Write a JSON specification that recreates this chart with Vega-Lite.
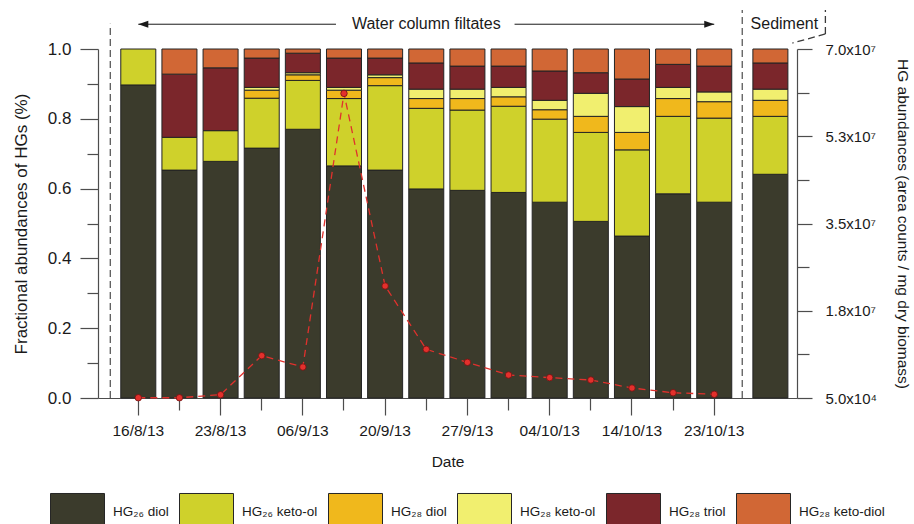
{
  "$schema": "https://vega.github.io/schema/vega-lite/v6.json",
  "width": 699,
  "height": 349,
  "autosize": "none",
  "padding": {"left": 98, "top": 49, "right": 117, "bottom": 126},
  "background": "#ffffff",
  "config": {
    "view": {"stroke": null},
    "font": "Liberation Sans",
    "axis": {
      "grid": false,
      "domainColor": "#4d4d4d",
      "domainWidth": 1.2,
      "tickColor": "#4d4d4d",
      "tickWidth": 1.2,
      "labelColor": "#1a1a1a",
      "titleColor": "#1a1a1a",
      "labelFont": "Liberation Sans",
      "titleFont": "Liberation Sans",
      "titleFontWeight": "normal"
    }
  },
  "datasets": {
    "fractions": [
      {"sample": "W1", "HG₂₆ diol": 0.897, "HG₂₆ keto-ol": 0.103, "HG₂₈ diol": 0, "HG₂₈ keto-ol": 0, "HG₂₈ triol": 0, "HG₂₈ keto-diol": 0},
      {"sample": "W2", "HG₂₆ diol": 0.653, "HG₂₆ keto-ol": 0.094, "HG₂₈ diol": 0, "HG₂₈ keto-ol": 0, "HG₂₈ triol": 0.181, "HG₂₈ keto-diol": 0.072},
      {"sample": "W3", "HG₂₆ diol": 0.678, "HG₂₆ keto-ol": 0.088, "HG₂₈ diol": 0, "HG₂₈ keto-ol": 0, "HG₂₈ triol": 0.180, "HG₂₈ keto-diol": 0.054},
      {"sample": "W4", "HG₂₆ diol": 0.716, "HG₂₆ keto-ol": 0.143, "HG₂₈ diol": 0.023, "HG₂₈ keto-ol": 0.008, "HG₂₈ triol": 0.084, "HG₂₈ keto-diol": 0.026},
      {"sample": "W5", "HG₂₆ diol": 0.770, "HG₂₆ keto-ol": 0.140, "HG₂₈ diol": 0.016, "HG₂₈ keto-ol": 0.006, "HG₂₈ triol": 0.056, "HG₂₈ keto-diol": 0.012},
      {"sample": "W6", "HG₂₆ diol": 0.665, "HG₂₆ keto-ol": 0.193, "HG₂₈ diol": 0.024, "HG₂₈ keto-ol": 0.008, "HG₂₈ triol": 0.084, "HG₂₈ keto-diol": 0.026},
      {"sample": "W7", "HG₂₆ diol": 0.653, "HG₂₆ keto-ol": 0.242, "HG₂₈ diol": 0.023, "HG₂₈ keto-ol": 0.008, "HG₂₈ triol": 0.048, "HG₂₈ keto-diol": 0.026},
      {"sample": "W8", "HG₂₆ diol": 0.599, "HG₂₆ keto-ol": 0.231, "HG₂₈ diol": 0.028, "HG₂₈ keto-ol": 0.027, "HG₂₈ triol": 0.075, "HG₂₈ keto-diol": 0.040},
      {"sample": "W9", "HG₂₆ diol": 0.595, "HG₂₆ keto-ol": 0.230, "HG₂₈ diol": 0.033, "HG₂₈ keto-ol": 0.027, "HG₂₈ triol": 0.066, "HG₂₈ keto-diol": 0.049},
      {"sample": "W10", "HG₂₆ diol": 0.589, "HG₂₆ keto-ol": 0.247, "HG₂₈ diol": 0.027, "HG₂₈ keto-ol": 0.027, "HG₂₈ triol": 0.061, "HG₂₈ keto-diol": 0.049},
      {"sample": "W11", "HG₂₆ diol": 0.561, "HG₂₆ keto-ol": 0.238, "HG₂₈ diol": 0.027, "HG₂₈ keto-ol": 0.027, "HG₂₈ triol": 0.084, "HG₂₈ keto-diol": 0.063},
      {"sample": "W12", "HG₂₆ diol": 0.506, "HG₂₆ keto-ol": 0.255, "HG₂₈ diol": 0.046, "HG₂₈ keto-ol": 0.066, "HG₂₈ triol": 0.059, "HG₂₈ keto-diol": 0.068},
      {"sample": "W13", "HG₂₆ diol": 0.464, "HG₂₆ keto-ol": 0.247, "HG₂₈ diol": 0.050, "HG₂₈ keto-ol": 0.074, "HG₂₈ triol": 0.079, "HG₂₈ keto-diol": 0.086},
      {"sample": "W14", "HG₂₆ diol": 0.585, "HG₂₆ keto-ol": 0.222, "HG₂₈ diol": 0.051, "HG₂₈ keto-ol": 0.032, "HG₂₈ triol": 0.066, "HG₂₈ keto-diol": 0.044},
      {"sample": "W15", "HG₂₆ diol": 0.561, "HG₂₆ keto-ol": 0.241, "HG₂₈ diol": 0.047, "HG₂₈ keto-ol": 0.028, "HG₂₈ triol": 0.074, "HG₂₈ keto-diol": 0.049},
      {"sample": "Sed", "HG₂₆ diol": 0.641, "HG₂₆ keto-ol": 0.166, "HG₂₈ diol": 0.046, "HG₂₈ keto-ol": 0.032, "HG₂₈ triol": 0.075, "HG₂₈ keto-diol": 0.040}
    ],
    "compounds": [
      {"compound": "HG₂₆ diol", "rank": 1},
      {"compound": "HG₂₆ keto-ol", "rank": 2},
      {"compound": "HG₂₈ diol", "rank": 3},
      {"compound": "HG₂₈ keto-ol", "rank": 4},
      {"compound": "HG₂₈ triol", "rank": 5},
      {"compound": "HG₂₈ keto-diol", "rank": 6}
    ],
    "abundance": [
      {"sample": "W1", "abund": 100000},
      {"sample": "W2", "abund": 100000},
      {"sample": "W3", "abund": 710000},
      {"sample": "W4", "abund": 8530000},
      {"sample": "W5", "abund": 6260000},
      {"sample": "W6", "abund": 61100000},
      {"sample": "W7", "abund": 22500000},
      {"sample": "W8", "abund": 9810000},
      {"sample": "W9", "abund": 7200000},
      {"sample": "W10", "abund": 4660000},
      {"sample": "W11", "abund": 4130000},
      {"sample": "W12", "abund": 3660000},
      {"sample": "W13", "abund": 2050000},
      {"sample": "W14", "abund": 1110000},
      {"sample": "W15", "abund": 790000}
    ]
  },
  "layer": [
    {
      "resolve": {"axis": {"x": "independent", "y": "independent"}},
      "layer": [
        {
          "data": {"name": "fractions"},
          "transform": [
            {"fold": ["HG₂₆ diol", "HG₂₆ keto-ol", "HG₂₈ diol", "HG₂₈ keto-ol", "HG₂₈ triol", "HG₂₈ keto-diol"], "as": ["compound", "frac"]},
            {"filter": "datum.frac > 0"},
            {"lookup": "compound", "from": {"data": {"name": "compounds"}, "key": "compound", "fields": ["rank"]}}
          ],
          "mark": {
            "type": "bar",
            "stroke": "#242424",
            "strokeWidth": 1,
            "xOffset": {"expr": "datum.sample === 'Sed' ? 15 : 0"}
          },
          "encoding": {
            "x": {
              "field": "sample",
              "type": "nominal",
              "scale": {
                "domain": ["W1", "W2", "W3", "W4", "W5", "W6", "W7", "W8", "W9", "W10", "W11", "W12", "W13", "W14", "W15", "Sed"],
                "paddingInner": 0.149,
                "paddingOuter": 0.57,
                "align": 0.486
              },
              "axis": {
                "orient": "bottom",
                "values": ["W1", "W3", "W5", "W7", "W9", "W11", "W13", "W15"],
                "title": "Date",
                "titleFontSize": 15.5,
                "titlePadding": 16,
                "labelFontSize": 15.5,
                "labelAngle": 0,
                "labelPadding": 8,
                "tickSize": 17,
                "labelExpr": "['16/8/13','','23/8/13','','06/9/13','','20/9/13','','27/9/13','','04/10/13','','14/10/13','','23/10/13'][parseInt(slice(datum.value, 1)) - 1]"
              }
            },
            "y": {
              "field": "frac",
              "type": "quantitative",
              "stack": "zero",
              "scale": {"domain": [0, 1], "nice": false},
              "axis": {
                "orient": "left",
                "values": [0, 0.2, 0.4, 0.6, 0.8, 1],
                "format": ".1f",
                "title": "Fractional abundances of HGs (%)",
                "titleFontSize": 17,
                "titlePadding": 17,
                "labelFontSize": 17,
                "labelPadding": 9,
                "tickSize": 18
              }
            },
            "color": {
              "field": "compound",
              "type": "nominal",
              "scale": {
                "domain": ["HG₂₆ diol", "HG₂₆ keto-ol", "HG₂₈ diol", "HG₂₈ keto-ol", "HG₂₈ triol", "HG₂₈ keto-diol"],
                "range": ["#3b3b2c", "#cfd12b", "#f0b81c", "#f1ef6f", "#7b262b", "#d16735"]
              },
              "legend": {
                "orient": "none",
                "legendX": -48,
                "legendY": 435,
                "direction": "horizontal",
                "columns": 6,
                "title": null,
                "symbolType": "M-1,-0.667H1V0.667H-1Z",
                "symbolSize": 2916,
                "symbolStrokeColor": "#262626",
                "symbolStrokeWidth": 1,
                "symbolOpacity": 1,
                "labelFontSize": 13.5,
                "labelColor": "#1a1a1a",
                "labelOffset": 8,
                "labelLimit": 200,
                "columnPadding": 8,
                "gridAlign": "none",
                "padding": 0
              }
            },
            "order": {"field": "rank", "type": "quantitative"}
          }
        },
        {
          "data": {"values": [{}]},
          "mark": {"type": "rule", "opacity": 0},
          "encoding": {
            "x": {
              "datum": "W2",
              "type": "nominal",
              "axis": {
                "orient": "bottom",
                "values": ["W2", "W4", "W6", "W8", "W10", "W12", "W14"],
                "title": null,
                "labels": false,
                "domain": false,
                "tickSize": 12
              }
            },
            "y": {
              "datum": 0.1,
              "type": "quantitative",
              "axis": {
                "orient": "left",
                "values": [0.1, 0.3, 0.5, 0.7, 0.9],
                "title": null,
                "labels": false,
                "domain": false,
                "tickSize": 11
              }
            }
          }
        },
        {
          "data": {"values": [{}]},
          "mark": {"type": "rule", "color": "#5a5a5a", "strokeWidth": 1.3, "strokeDash": [7, 4], "xOffset": -28},
          "encoding": {
            "x": {"datum": "W1", "type": "nominal", "axis": null},
            "y": {"datum": 0, "type": "quantitative", "axis": null},
            "y2": {"datum": 1.072}
          }
        },
        {
          "data": {"values": [{}]},
          "mark": {"type": "rule", "color": "#5a5a5a", "strokeWidth": 1.3, "strokeDash": [7, 4], "xOffset": 28},
          "encoding": {
            "x": {"datum": "W15", "type": "nominal", "axis": null},
            "y": {"datum": 0, "type": "quantitative", "axis": null},
            "y2": {"datum": 1.112}
          }
        },
        {
          "data": {"values": [{}]},
          "mark": {"type": "rule", "color": "#3a3a3a", "strokeWidth": 1.3, "strokeDash": [7, 4], "xOffset": 70},
          "encoding": {
            "x": {"datum": "Sed", "type": "nominal", "axis": null},
            "y": {"datum": 1.043, "type": "quantitative", "axis": null},
            "y2": {"datum": 1.112}
          }
        },
        {
          "data": {"values": [{}]},
          "mark": {"type": "rule", "color": "#3a3a3a", "strokeWidth": 1.3, "strokeDash": [7, 4], "xOffset": 70, "x2Offset": 37},
          "encoding": {
            "x": {"datum": "Sed", "type": "nominal", "axis": null},
            "x2": {"datum": "Sed"},
            "y": {"datum": 1.043, "type": "quantitative", "axis": null},
            "y2": {"datum": 1.017}
          }
        },
        {
          "data": {"values": [{}]},
          "mark": {"type": "rule", "color": "#1a1a1a", "strokeWidth": 1, "x2Offset": -8},
          "encoding": {
            "x": {"datum": "W1", "type": "nominal", "axis": null},
            "x2": {"datum": "W6"},
            "y": {"datum": 1.071, "type": "quantitative", "axis": null}
          }
        },
        {
          "data": {"values": [{}]},
          "mark": {"type": "rule", "color": "#1a1a1a", "strokeWidth": 1, "xOffset": 6},
          "encoding": {
            "x": {"datum": "W10", "type": "nominal", "axis": null},
            "x2": {"datum": "W15"},
            "y": {"datum": 1.071, "type": "quantitative", "axis": null}
          }
        },
        {
          "data": {"values": [{}]},
          "mark": {"type": "point", "shape": "M-1,0L1,-0.7L1,0.7Z", "filled": true, "color": "#1a1a1a", "size": 100, "opacity": 1, "xOffset": 5},
          "encoding": {
            "x": {"datum": "W1", "type": "nominal", "axis": null},
            "y": {"datum": 1.071, "type": "quantitative", "axis": null}
          }
        },
        {
          "data": {"values": [{}]},
          "mark": {"type": "point", "shape": "M1,0L-1,-0.7L-1,0.7Z", "filled": true, "color": "#1a1a1a", "size": 100, "opacity": 1, "xOffset": -5},
          "encoding": {
            "x": {"datum": "W15", "type": "nominal", "axis": null},
            "y": {"datum": 1.071, "type": "quantitative", "axis": null}
          }
        },
        {
          "data": {"values": [{"label": "Water column filtates"}]},
          "mark": {"type": "text", "fontSize": 16, "color": "#1a1a1a", "baseline": "middle", "align": "center"},
          "encoding": {
            "x": {"datum": "W8", "type": "nominal", "axis": null},
            "y": {"datum": 1.071, "type": "quantitative", "axis": null},
            "text": {"field": "label"}
          }
        },
        {
          "data": {"values": [{"label": "Sediment"}]},
          "mark": {"type": "text", "fontSize": 16, "color": "#1a1a1a", "baseline": "middle", "align": "center", "xOffset": 29},
          "encoding": {
            "x": {"datum": "Sed", "type": "nominal", "axis": null},
            "y": {"datum": 1.071, "type": "quantitative", "axis": null},
            "text": {"field": "label"}
          }
        }
      ]
    },
    {
      "data": {"name": "abundance"},
      "resolve": {"axis": {"y": "independent"}},
      "layer": [
        {
          "mark": {"type": "line", "color": "#e0312d", "strokeWidth": 1.3, "strokeDash": [7, 5]},
          "encoding": {
            "x": {"field": "sample", "type": "nominal", "axis": null},
            "y": {
              "field": "abund",
              "type": "quantitative",
              "scale": {"domain": [50000, 70000000], "zero": false, "nice": false},
              "axis": {
                "orient": "right",
                "values": [50000, 17537500, 35025000, 52512500, 70000000],
                "title": "HG abundances (area counts / mg dry biomass)",
                "titleFontSize": 15.5,
                "titlePadding": 18,
                "labelFontSize": 15,
                "labelPadding": 13,
                "tickSize": 15,
                "labelExpr": "datum.value < 1000000 ? '5.0x10⁴' : format(datum.value / 10000000, '.1f') + 'x10⁷'"
              }
            }
          }
        },
        {
          "mark": {"type": "point", "filled": true, "fill": "#e3302c", "stroke": "#6e1212", "strokeWidth": 0.8, "size": 42, "opacity": 1},
          "encoding": {
            "x": {"field": "sample", "type": "nominal", "axis": null},
            "y": {
              "field": "abund",
              "type": "quantitative",
              "scale": {"domain": [50000, 70000000], "zero": false, "nice": false},
              "axis": {
                "orient": "right",
                "values": [8793750, 26281250, 43768750, 61256250],
                "title": null,
                "labels": false,
                "domain": false,
                "tickSize": 12
              }
            }
          }
        }
      ]
    }
  ],
  "resolve": {"scale": {"y": "independent"}}
}
